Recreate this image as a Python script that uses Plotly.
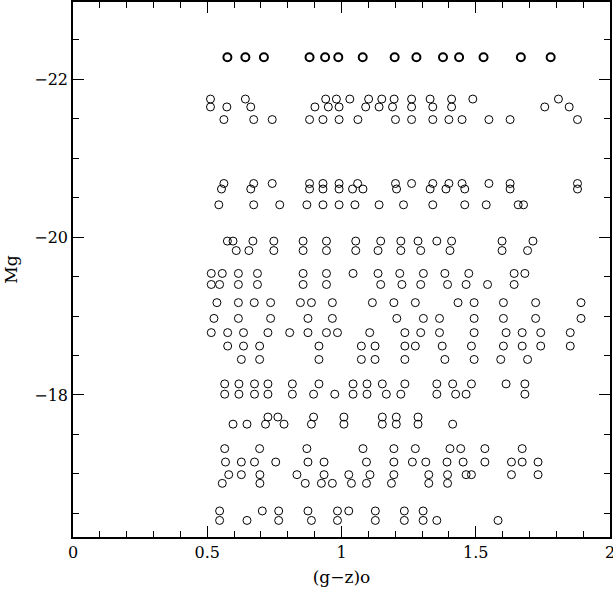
import plotly.graph_objects as go

# (g-z)o colours of galaxies, grouped by their absolute magnitude Mg
mg_top = -22.28
gz_top = [0.575, 0.642, 0.711, 0.881, 0.939, 0.988, 1.079, 1.198, 1.279, 1.378,
          1.438, 1.529, 1.668, 1.779]

mg_levels = [-21.75, -21.65, -21.49, -20.68, -20.61, -20.41, -19.95, -19.83,
             -19.54, -19.40, -19.17, -18.97, -18.79, -18.62, -18.45, -18.14,
             -18.01, -17.72, -17.63, -17.32, -17.15, -16.99, -16.88, -16.53,
             -16.41]

gz_m2175 = [0.512, 0.642, 0.941, 0.981, 1.031, 1.101, 1.150, 1.196, 1.261, 1.330,
            1.410, 1.489, 1.808]
gz_m2165 = [0.512, 0.573, 0.662, 0.901, 0.951, 0.991, 1.090, 1.140, 1.190, 1.261,
            1.340, 1.410, 1.757, 1.848]
gz_m2149 = [0.562, 0.673, 0.742, 0.881, 0.931, 0.991, 1.061, 1.201, 1.261, 1.340,
            1.400, 1.449, 1.549, 1.628, 1.879]
gz_m2068 = [0.562, 0.673, 0.742, 0.881, 0.931, 0.991, 1.060, 1.201, 1.261, 1.340,
            1.400, 1.449, 1.549, 1.628, 1.879]
gz_m2061 = [0.553, 0.662, 0.881, 0.931, 0.991, 1.041, 1.080, 1.205, 1.330, 1.389,
            1.459, 1.628, 1.879]
gz_m2041 = [0.543, 0.673, 0.770, 0.871, 0.931, 0.991, 1.050, 1.140, 1.231, 1.340,
            1.459, 1.539, 1.658, 1.678]
gz_m1995 = [0.575, 0.596, 0.670, 0.748, 0.857, 0.944, 1.053, 1.146, 1.221, 1.285,
            1.355, 1.410, 1.598, 1.713]
gz_m1983 = [0.608, 0.655, 0.748, 0.857, 0.944, 1.053, 1.136, 1.221, 1.295, 1.404,
            1.598, 1.693]
gz_m1954 = [0.515, 0.556, 0.616, 0.687, 0.857, 0.944, 1.043, 1.136, 1.217, 1.305,
            1.385, 1.474, 1.643, 1.683]
gz_m1940 = [0.515, 0.546, 0.616, 0.687, 0.857, 0.944, 1.146, 1.225, 1.295, 1.395,
            1.464, 1.544, 1.643]
gz_m1917 = [0.536, 0.616, 0.675, 0.736, 0.847, 0.888, 0.966, 1.115, 1.195, 1.275,
            1.434, 1.494, 1.603, 1.723, 1.892]
gz_m1897 = [0.525, 0.616, 0.736, 0.875, 0.966, 1.206, 1.305, 1.365, 1.494, 1.603,
            1.723, 1.892]
gz_m1879 = [0.515, 0.576, 0.635, 0.726, 0.807, 0.875, 0.944, 0.985, 1.105, 1.236,
            1.295, 1.365, 1.494, 1.613, 1.673, 1.742, 1.852]
gz_m1862 = [0.576, 0.635, 0.695, 0.916, 1.074, 1.125, 1.236, 1.275, 1.375, 1.484,
            1.603, 1.673, 1.742, 1.852]
gz_m1845 = [0.627, 0.695, 0.916, 1.074, 1.125, 1.236, 1.385, 1.494, 1.593, 1.693]
gz_m1814 = [0.565, 0.618, 0.676, 0.726, 0.817, 0.916, 1.043, 1.095, 1.152, 1.236,
            1.355, 1.414, 1.484, 1.613, 1.683]
gz_m1801 = [0.565, 0.618, 0.676, 0.726, 0.817, 0.896, 0.975, 1.043, 1.095, 1.167,
            1.221, 1.355, 1.425, 1.464, 1.683]
gz_m1772 = [0.726, 0.763, 0.896, 1.009, 1.152, 1.204, 1.285]
gz_m1763 = [0.596, 0.648, 0.717, 0.786, 0.888, 1.009, 1.152, 1.204, 1.285, 1.414]
gz_m1732 = [0.565, 0.695, 0.871, 1.080, 1.195, 1.275, 1.404, 1.444, 1.534, 1.673]
gz_m1715 = [0.568, 0.627, 0.676, 0.755, 0.875, 0.935, 1.093, 1.195, 1.264, 1.314,
            1.393, 1.453, 1.534, 1.633, 1.673, 1.732]
gz_m1699 = [0.580, 0.627, 0.696, 0.834, 0.935, 1.027, 1.106, 1.195, 1.325, 1.395,
            1.464, 1.484, 1.633, 1.732]
gz_m1688 = [0.556, 0.696, 0.865, 0.925, 0.966, 1.037, 1.093, 1.186, 1.325, 1.395]
gz_m1653 = [0.546, 0.705, 0.766, 0.875, 0.985, 1.027, 1.126, 1.234, 1.304]
gz_m1641 = [0.546, 0.648, 0.766, 0.888, 0.985, 1.126, 1.234, 1.304, 1.355, 1.583]

gz_rows = [gz_m2175, gz_m2165, gz_m2149, gz_m2068, gz_m2061, gz_m2041, gz_m1995,
           gz_m1983, gz_m1954, gz_m1940, gz_m1917, gz_m1897, gz_m1879, gz_m1862,
           gz_m1845, gz_m1814, gz_m1801, gz_m1772, gz_m1763, gz_m1732, gz_m1715,
           gz_m1699, gz_m1688, gz_m1653, gz_m1641]

x_ticks = [0, 0.5, 1, 1.5, 2]
x_tick_text = ["0", "0.5", "1", "1.5", "2"]
y_ticks = [-22, -20, -18]
y_tick_text = ["\u221222", "\u221220", "\u221218"]

xs, ys = [], []
for mg, row in zip(mg_levels, gz_rows):
    xs.extend(row)
    ys.extend([mg] * len(row))

FONT = "DejaVu Serif"

fig = go.Figure()
fig.add_trace(go.Scatter(
    x=xs, y=ys, mode="markers",
    marker=dict(symbol="circle-open", size=8, color="black",
                line=dict(width=1, color="black")),
    hoverinfo="skip", showlegend=False,
))
fig.add_trace(go.Scatter(
    x=gz_top, y=[mg_top] * len(gz_top), mode="markers",
    marker=dict(symbol="circle-open", size=8, color="black",
                line=dict(width=2, color="black")),
    hoverinfo="skip", showlegend=False,
))

axis_common = dict(
    showline=True, linecolor="black", linewidth=1.5, mirror="ticks",
    ticks="inside", ticklen=11, tickwidth=1, tickcolor="black",
    showgrid=False, zeroline=False, ticklabeloverflow="allow",
    automargin=False,
    tickfont=dict(family=FONT, size=16, color="black"),
)

fig.update_xaxes(
    range=[0, 2], tickvals=x_ticks, ticktext=x_tick_text,
    minor=dict(dtick=0.1, ticks="inside", ticklen=6, tickcolor="black",
               showgrid=False),
    title=dict(text="(g\u2212z)o", font=dict(family=FONT, size=17, color="black"),
               standoff=10),
    **axis_common,
)
fig.update_yaxes(
    range=[-16.2, -22.98], tickvals=y_ticks, ticktext=y_tick_text,
    minor=dict(dtick=0.5, tick0=0, ticks="inside", ticklen=6, tickcolor="black",
               showgrid=False),
    title=dict(text="Mg", font=dict(family=FONT, size=17, color="black"),
               standoff=12),
    **axis_common,
)

fig.update_layout(
    width=613, height=594,
    margin=dict(l=73, r=3, t=2, b=57),
    paper_bgcolor="white", plot_bgcolor="white",
)

fig.write_html("out.html")
